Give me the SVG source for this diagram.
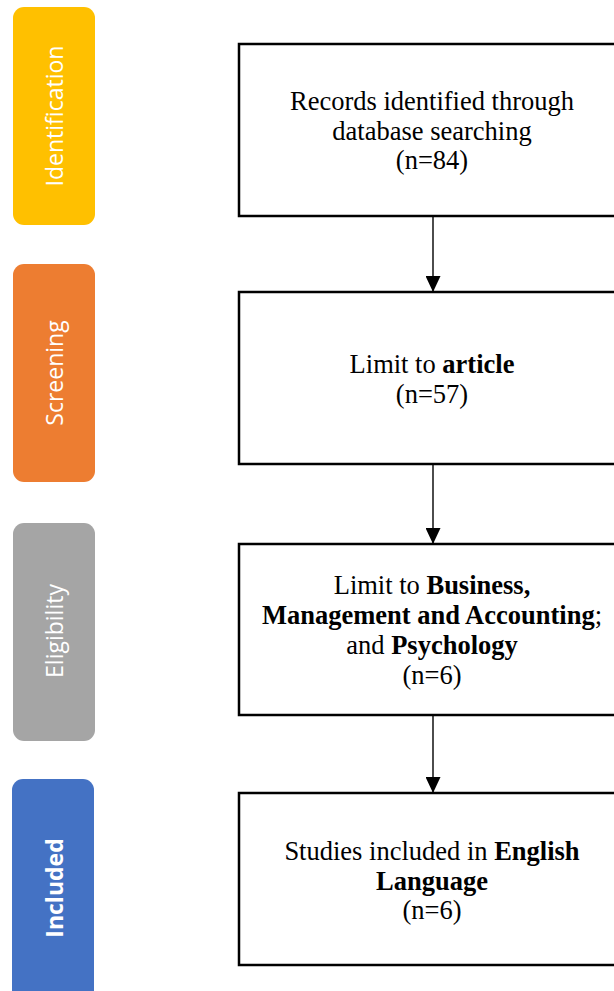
<svg xmlns="http://www.w3.org/2000/svg" width="614" height="991" viewBox="0 0 614 991">
<style>
.bar{stroke:none}
.bt{font-family:"Open Sans","Noto Sans",sans-serif;font-size:23px;fill:#ffffff;text-anchor:middle}
.box{fill:#ffffff;stroke:#000000;stroke-width:2.5}
.t{font-family:"Liberation Serif","Times New Roman",serif;font-size:26.5px;fill:#000000;text-anchor:middle}
.b{font-weight:bold}
.conn{stroke:#000000;stroke-width:1.4;fill:none}
</style>
<defs>
<marker id="ah" markerWidth="16" markerHeight="15" refX="16" refY="7.5" orient="auto" markerUnits="userSpaceOnUse">
<path d="M0,0 L16,7.5 L0,15 Z" fill="#000000"/>
</marker>
</defs>
<rect width="614" height="991" fill="#ffffff"/>
<g id="stage-identification">
<rect class="bar" x="13" y="7" width="82" height="218" rx="11" fill="#FFC000"/>
<text class="bt" transform="translate(63,116) rotate(-90)">Identification</text>
</g>
<g id="stage-screening">
<rect class="bar" x="13" y="264" width="82" height="218" rx="11" fill="#ED7D31"/>
<text class="bt" transform="translate(63,373) rotate(-90)">Screening</text>
</g>
<g id="stage-eligibility">
<rect class="bar" x="13" y="523" width="82" height="218" rx="11" fill="#A5A5A5"/>
<text class="bt" transform="translate(63,631) rotate(-90)">Eligibility</text>
</g>
<g id="stage-included">
<rect class="bar" x="12" y="779" width="82" height="230" rx="11" fill="#4472C4"/>
<text class="bt b" transform="translate(63,888) rotate(-90)">Included</text>
</g>
<g id="box-records">
<rect class="box" x="239" y="44" width="385" height="172"/>
<text class="t" x="432" y="110">Records identified through</text>
<text class="t" x="432" y="140">database searching</text>
<text class="t" x="432" y="169">(n=84)</text>
</g>
<g id="box-article">
<rect class="box" x="239" y="292" width="385" height="172"/>
<text class="t" x="432" y="373">Limit to <tspan class="b">article</tspan></text>
<text class="t" x="432" y="403">(n=57)</text>
</g>
<g id="box-subject">
<rect class="box" x="239" y="544" width="385" height="171"/>
<text class="t" x="432" y="594">Limit to <tspan class="b">Business,</tspan></text>
<text class="t" x="432" y="624"><tspan class="b">Management and Accounting</tspan>;</text>
<text class="t" x="432" y="654">and <tspan class="b">Psychology</tspan></text>
<text class="t" x="432" y="684">(n=6)</text>
</g>
<g id="box-english">
<rect class="box" x="239" y="793" width="385" height="172"/>
<text class="t" x="432" y="860">Studies included in <tspan class="b">English</tspan></text>
<text class="t" x="432" y="890"><tspan class="b">Language</tspan></text>
<text class="t" x="432" y="919">(n=6)</text>
</g>
<g id="connectors">
<line class="conn" x1="433" y1="217" x2="433" y2="292" marker-end="url(#ah)"/>
<line class="conn" x1="433" y1="465" x2="433" y2="544" marker-end="url(#ah)"/>
<line class="conn" x1="433" y1="716" x2="433" y2="793" marker-end="url(#ah)"/>
</g>
</svg>
